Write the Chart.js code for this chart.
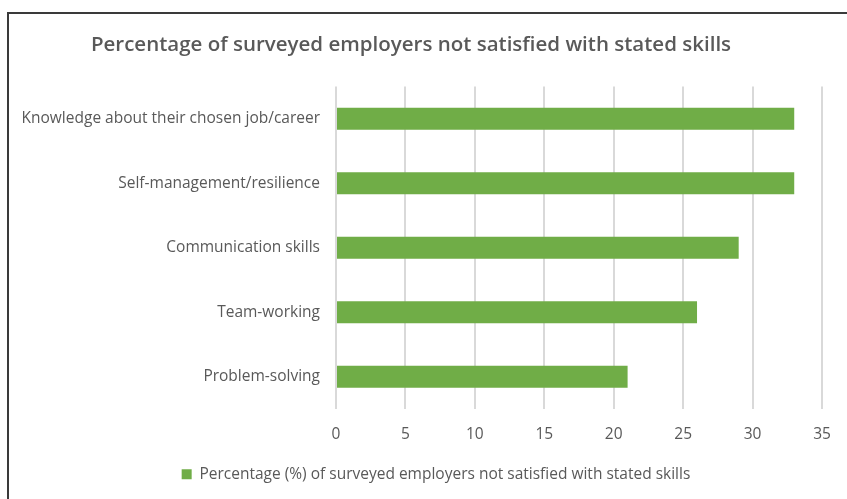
<!DOCTYPE html>
<html>
<head>
<meta charset="utf-8">
<script src="https://cdn.jsdelivr.net/npm/chart.js@4"></script>
<style>
  html, body { margin: 0; padding: 0; background: #fff; }
  #frame { position: absolute; left: 7px; top: 12px; width: 860px; height: 500px;
           border-left: 2px solid #3a3a3a; border-top: 2px solid #3a3a3a; }
  #wrap { position: absolute; left: 0; top: 0; width: 847px; height: 499px; }
</style>
</head>
<body>
<div id="frame"></div>
<div id="wrap"><canvas id="chart"></canvas></div>
<script>
const skills = ['Knowledge about their chosen job/career', 'Self-management/resilience',
  'Communication skills', 'Team-working', 'Problem-solving'];
const notSatisfied = [33, 33, 29, 26, 21];
const seriesName = 'Percentage (%) of surveyed employers not satisfied with stated skills';
const chartTitle = 'Percentage of surveyed employers not satisfied with stated skills';

const grey = '#595959';
const font = 'Open Sans';

// legend sits a bit right of centre in the original
const shiftLegend = {
  id: 'shiftLegend',
  afterLayout(chart) {
    chart.legend.left += 25;
    chart.legend.right += 25;
  }
};

new Chart(document.getElementById('chart'), {
  type: 'bar',
  data: {
    labels: skills,
    datasets: [{ label: seriesName, data: notSatisfied, backgroundColor: '#70ad47',
      borderWidth: 0, categoryPercentage: 1, barPercentage: 0.34 }]
  },
  options: {
    indexAxis: 'y',
    responsive: true,
    maintainAspectRatio: false,
    animation: false,
    layout: { padding: { left: 0, right: 25, top: 33, bottom: 7 } },
    scales: {
      x: {
        min: 0, max: 35,
        ticks: { stepSize: 5, color: grey, font: { family: font, size: 15.5 }, padding: 16 },
        grid: { color: '#d9d9d9', lineWidth: 2, drawTicks: false },
        border: { display: false }
      },
      y: {
        ticks: { color: grey, font: { family: font, size: 15.5 }, padding: 8 },
        grid: { display: false },
        border: { display: false },
        afterFit: function (scale) { scale.width = 336; }
      }
    },
    plugins: {
      title: { display: true, text: chartTitle, color: grey,
        font: { family: font, size: 20.5, weight: '600' }, padding: { top: 0, bottom: 29 } },
      legend: { position: 'bottom',
        labels: { color: grey, boxWidth: 10, boxHeight: 10, font: { family: font, size: 15.5 }, padding: 7 } },
      tooltip: { enabled: false }
    }
  },
  plugins: [shiftLegend]
});
</script>
</body>
</html>
